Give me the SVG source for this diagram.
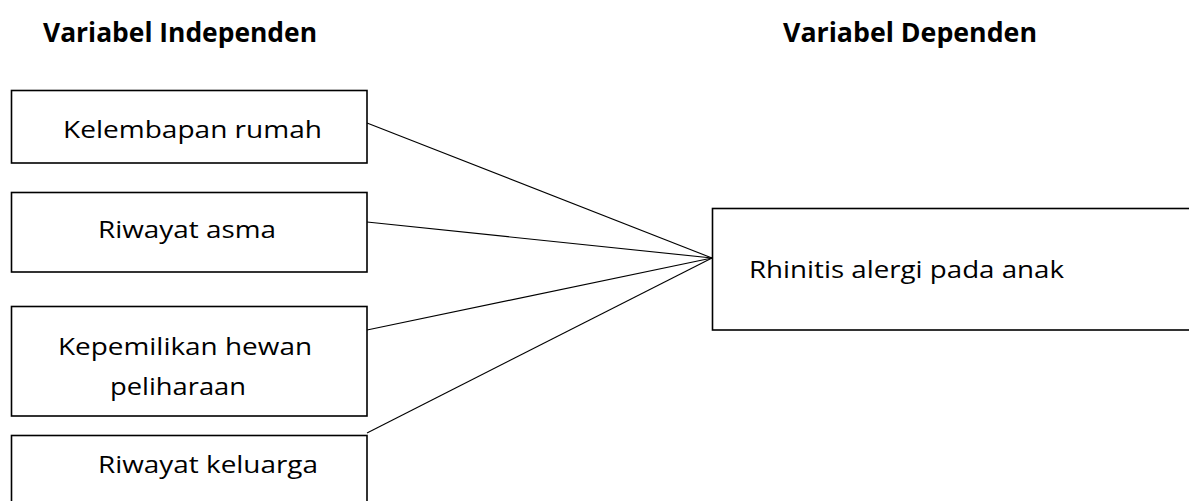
<svg xmlns="http://www.w3.org/2000/svg" width="1189" height="501" viewBox="0 0 1189 501">
<style>
.box{fill:#fff;stroke:#000;stroke-width:1.6}
.t{font-family:"Open Sans","Liberation Sans",sans-serif;font-size:23px;fill:#000}
.h{font-family:"Open Sans","Liberation Sans",sans-serif;font-size:26px;font-weight:bold;fill:#000}
.c{stroke:#000;stroke-width:1.1;fill:none}
</style>
<rect width="1189" height="501" fill="#fff"/>
<text class="h" x="43" y="42" textLength="274" lengthAdjust="spacingAndGlyphs">Variabel Independen</text>
<text class="h" x="783" y="42" textLength="254" lengthAdjust="spacingAndGlyphs">Variabel Dependen</text>
<g id="connectors">
<line class="c" x1="367" y1="123" x2="712" y2="258"/>
<line class="c" x1="367" y1="222" x2="712" y2="258"/>
<line class="c" x1="367" y1="330" x2="712" y2="258"/>
<line class="c" x1="367" y1="433" x2="712" y2="258"/>
</g>
<g id="n1">
<rect class="box" x="11.5" y="90.5" width="355.5" height="72.5"/>
<text class="t" x="63" y="138" textLength="259" lengthAdjust="spacingAndGlyphs">Kelembapan rumah</text>
</g>
<g id="n2">
<rect class="box" x="11.5" y="192.5" width="355.5" height="79.5"/>
<text class="t" x="98" y="238" textLength="178" lengthAdjust="spacingAndGlyphs">Riwayat asma</text>
</g>
<g id="n3">
<rect class="box" x="11.5" y="306.5" width="355.5" height="109.5"/>
<text class="t" x="58" y="355" textLength="254" lengthAdjust="spacingAndGlyphs">Kepemilikan hewan</text>
<text class="t" x="110" y="395" textLength="136" lengthAdjust="spacingAndGlyphs">peliharaan</text>
</g>
<g id="n4">
<rect class="box" x="11.5" y="435.5" width="355.5" height="80"/>
<text class="t" x="98" y="473" textLength="220" lengthAdjust="spacingAndGlyphs">Riwayat keluarga</text>
</g>
<g id="n5">
<rect class="box" x="712.5" y="208.5" width="490" height="121.5"/>
<text class="t" x="749" y="278" textLength="315" lengthAdjust="spacingAndGlyphs">Rhinitis alergi pada anak</text>
</g>
</svg>
